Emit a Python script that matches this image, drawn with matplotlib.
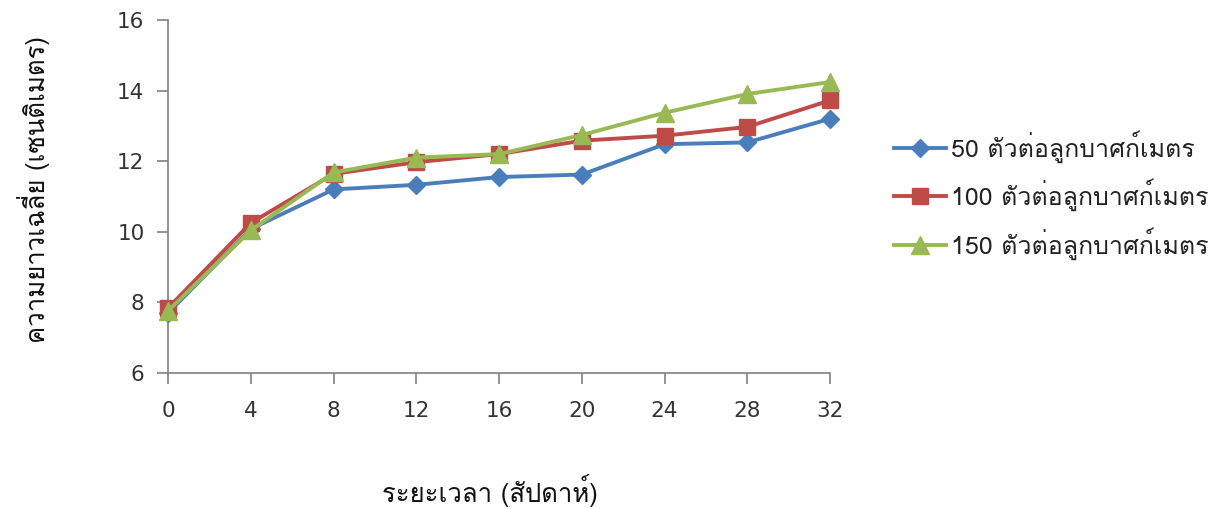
import matplotlib
matplotlib.use("Agg")
import matplotlib.pyplot as plt

# Weeks of rearing and mean length (cm) for three stocking densities
weeks = [0, 4, 8, 12, 16, 20, 24, 28, 32]
density_50 = [7.70, 10.08, 11.20, 11.33, 11.55, 11.62, 12.48, 12.53, 13.20]
density_100 = [7.84, 10.25, 11.64, 11.97, 12.20, 12.58, 12.72, 12.97, 13.72]
density_150 = [7.76, 10.04, 11.68, 12.10, 12.20, 12.74, 13.37, 13.90, 14.24]

series_labels = ["50 ตัวต่อลูกบาศก์เมตร", "100 ตัวต่อลูกบาศก์เมตร", "150 ตัวต่อลูกบาศก์เมตร"]
x_label = "ระยะเวลา (สัปดาห์)"
y_label = "ความยาวเฉลี่ย (เซนติเมตร)"
y_ticks = [6, 8, 10, 12, 14, 16]

THAI = ["Loma", "Noto Sans Thai Looped", "DejaVu Sans"]
plt.rcParams["font.family"] = ["DejaVu Sans", "Loma"]

fig = plt.figure(figsize=(12.24, 5.09), dpi=100)
ax = fig.add_axes([0.1373, 0.267, 0.5409, 0.694])

styles = [
    (density_50, "#4A7EBB", "D", 9.5),
    (density_100, "#BE4B48", "s", 12),
    (density_150, "#98B954", "^", 13),
]
for (vals, color, marker, ms), label in zip(styles, series_labels):
    ax.plot(weeks, vals, color=color, lw=2.8, marker=marker, ms=ms,
            markeredgecolor=color, label=label, clip_on=False, zorder=3)

ax.set_xlim(0, 32)
ax.set_ylim(6, 16)
ax.set_xticks(weeks)
ax.set_yticks(y_ticks)
ax.spines["top"].set_visible(False)
ax.spines["right"].set_visible(False)
for sp in ("left", "bottom"):
    ax.spines[sp].set_color("#808080")
    ax.spines[sp].set_linewidth(1.2)
ax.tick_params(axis="both", direction="out", length=8, width=1.2, color="#808080",
               labelsize=15.5, labelcolor="#333333")
ax.tick_params(axis="x", pad=12)
ax.tick_params(axis="y", pad=9)

fig.text(0.40, 0.003, x_label, ha="center", va="bottom", fontsize=18.5,
         color="#111111", family=THAI)
fig.text(0.027, 0.627, y_label, ha="center", va="center", rotation=90,
         fontsize=18.5, color="#111111", family=THAI)

leg = fig.legend(loc="center left", bbox_to_anchor=(0.712, 0.617), frameon=False,
                 prop={"family": THAI, "size": 18}, handlelength=2.1,
                 handletextpad=0.2, labelspacing=0.64)
for t in leg.get_texts():
    t.set_color("#222222")

fig.savefig("out.png", dpi=100)
